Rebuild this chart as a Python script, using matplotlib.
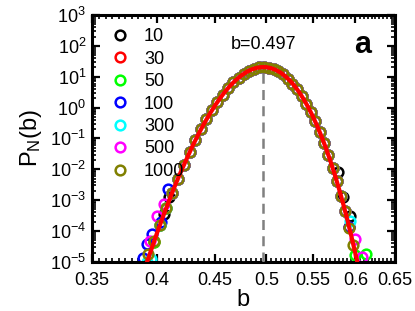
import math
import matplotlib
matplotlib.use('Agg')
import matplotlib.pyplot as plt
from matplotlib.ticker import FixedLocator, FixedFormatter, LogLocator, NullFormatter, FuncFormatter

plt.rcParams['font.family'] = ['Liberation Sans', 'DejaVu Sans']
plt.rcParams['mathtext.fontset'] = 'custom'
plt.rcParams['mathtext.rm'] = 'Liberation Sans'
plt.rcParams['mathtext.it'] = 'Liberation Sans'

# chain lengths N and marker colours
sizes = ['10', '30', '50', '100', '300', '500', '1000']
colors = ['black', 'red', '#00ff00', 'blue', 'cyan', 'magenta', '#808000']

# histogram bins shared by all N (central part)
b_core = [0.4125, 0.4175, 0.4225, 0.4275, 0.4325, 0.4375, 0.4425, 0.4475, 0.4525,
          0.4575, 0.4625, 0.4675, 0.4725, 0.4775, 0.4825, 0.4875, 0.4925, 0.4975,
          0.5025, 0.5075, 0.5125, 0.5175, 0.5225, 0.5275, 0.5325, 0.5375, 0.5425,
          0.5475, 0.5525, 0.5575, 0.5625, 0.5675, 0.5725, 0.5775]
p_core = [1.7e-3, 5.0e-3, 1.4e-2, 3.6e-2, 8.6e-2, 0.195, 0.41, 0.82, 1.52,
          2.64, 4.29, 6.5, 9.3, 12.4, 15.6, 18.2, 20.0, 20.5,
          19.7, 17.7, 15.0, 11.8, 8.7, 6.0, 3.9, 2.37, 1.35,
          0.72, 0.36, 0.167, 0.073, 0.030, 0.0114, 4.1e-3]

# tails, different for every N
b_left = {
    '10':   [0.4056, 0.4095],
    '30':   [0.3975, 0.4025, 0.4075],
    '50':   [0.3975, 0.4025, 0.4075],
    '100':  [0.3885, 0.3917, 0.3962, 0.4030, 0.4094],
    '300':  [0.3920, 0.3950, 0.4025, 0.4075],
    '500':  [0.3940, 0.3997, 0.4053],
    '1000': [0.3925, 0.3975, 0.4025, 0.4075],
}
p_left = {
    '10':   [3.5e-4, 1.26e-3],
    '30':   [4.5e-5, 1.6e-4, 5.5e-4],
    '50':   [4.5e-5, 1.6e-4, 5.5e-4],
    '100':  [1.35e-5, 3.8e-5, 8.0e-5, 2.0e-4, 2.3e-3],
    '300':  [1.0e-5, 1.25e-5, 1.6e-4, 5.5e-4],
    '500':  [4.8e-5, 3.1e-4, 7.6e-4],
    '1000': [1.8e-5, 4.6e-5, 1.6e-4, 5.5e-4],
}
b_right = {
    '10':   [0.5788, 0.5848, 0.5932],
    '30':   [0.5825, 0.5875, 0.5925],
    '50':   [0.5825, 0.5875, 0.5993, 0.6129],
    '100':  [0.5825, 0.5875, 0.5925],
    '300':  [0.5825, 0.5875, 0.5932],
    '500':  [0.5825, 0.5875, 0.5993, 0.6075],
    '1000': [0.5825, 0.5875, 0.5925, 0.5975],
}
p_right = {
    '10':   [8.2e-3, 1.27e-3, 3.1e-4],
    '30':   [1.4e-3, 4.3e-4, 1.3e-4],
    '50':   [1.4e-3, 4.3e-4, 1.7e-5, 1.8e-5],
    '100':  [1.4e-3, 4.3e-4, 1.3e-4],
    '300':  [1.4e-3, 4.3e-4, 2.1e-4],
    '500':  [1.4e-3, 4.3e-4, 5.6e-5, 1.45e-5],
    '1000': [1.37e-3, 4.3e-4, 1.27e-4, 3.5e-5],
}

# gaussian fit
b_fit = [0.390, 0.395, 0.400, 0.405, 0.410, 0.415, 0.420, 0.425, 0.430, 0.435,
         0.440, 0.445, 0.450, 0.455, 0.460, 0.465, 0.470, 0.475, 0.480, 0.485,
         0.490, 0.495, 0.500, 0.505, 0.510, 0.515, 0.520, 0.525, 0.530, 0.535,
         0.540, 0.545, 0.550, 0.555, 0.560, 0.565, 0.570, 0.575, 0.580, 0.585,
         0.590, 0.595, 0.600, 0.605]
p_fit = [5.9e-6, 2.3e-5, 8.7e-5, 3.0e-4, 9.8e-4, 3.0e-3, 8.4e-3, 2.2e-2, 5.6e-2, 0.131,
         0.286, 0.586, 1.12, 2.01, 3.39, 5.33, 7.85, 10.8, 14.0, 17.0,
         19.2, 20.4, 20.3, 18.8, 16.4, 13.4, 10.2, 7.31, 4.90, 3.07,
         1.80, 0.991, 0.511, 0.246, 0.111, 0.0469, 0.0186, 0.00689, 0.00239, 7.76e-4,
         2.36e-4, 6.7e-5, 1.8e-5, 4.5e-6]
b_mean = 0.497
p_peak = 20.4

xticks = [0.35, 0.4, 0.45, 0.5, 0.55, 0.6, 0.65]
xticklabels = ['0.35', '0.4', '0.45', '0.5', '0.55', '0.6', '0.65']
xminor = [0.35 + 0.005 * i for i in range(61)]

fig = plt.figure(figsize=(4.15, 3.11), dpi=100)
ax = fig.add_axes([0.221, 0.158, 0.730, 0.794])

for n, c in zip(sizes, colors):
    bb = b_left[n] + b_core + b_right[n]
    pp = p_left[n] + p_core + p_right[n]
    ax.plot(bb, pp, 'o', ls='none', mfc='none', mec=c, ms=7, mew=1.8, label=n)

ax.plot([b_mean, b_mean], [1e-5, p_peak], ls=(0, (4, 2.5)), color='gray', lw=1.8, zorder=3)
ax.plot(b_fit, p_fit, color='red', lw=3, zorder=4)

ax.set_xscale('log')
ax.set_yscale('log')
ax.set_xlim(0.35, 0.65)
ax.set_ylim(1e-5, 1e3)

ax.xaxis.set_major_locator(FixedLocator(xticks))
ax.xaxis.set_major_formatter(FixedFormatter(xticklabels))
ax.xaxis.set_minor_locator(FixedLocator(xminor))
ax.xaxis.set_minor_formatter(NullFormatter())
ax.yaxis.set_major_locator(LogLocator(base=10, numticks=20))
ax.yaxis.set_minor_locator(LogLocator(base=10, subs=range(2, 10), numticks=20))
ax.yaxis.set_minor_formatter(NullFormatter())
ax.yaxis.set_major_formatter(FuncFormatter(lambda v, p: r'$\mathregular{10^{%d}}$' % round(math.log10(v))))

ax.tick_params(which='both', direction='in', top=True, right=True, labelsize=13)
ax.tick_params(axis='x', pad=7)
ax.tick_params(axis='y', pad=4)
ax.tick_params(which='major', length=6, width=1.6)
ax.tick_params(which='minor', length=3, width=1.2)
for s in ax.spines.values():
    s.set_linewidth(2.2)

ax.set_xlabel('b', fontsize=17, labelpad=0)
ax.set_ylabel(r'$\mathregular{P_N(b)}$', fontsize=17, labelpad=4)

ax.text(b_mean, 1.1e2, 'b=0.497', fontsize=13, ha='center', va='center')
ax.text(0.609, 1.1e2, 'a', fontsize=22, fontweight='bold', ha='center', va='center')

ax.legend(loc='upper left', bbox_to_anchor=(0.035, 0.975), frameon=False, fontsize=13,
          handletextpad=0.7, labelspacing=0.3, borderaxespad=0, handlelength=1.2)

fig.savefig('out.png', dpi=100)
